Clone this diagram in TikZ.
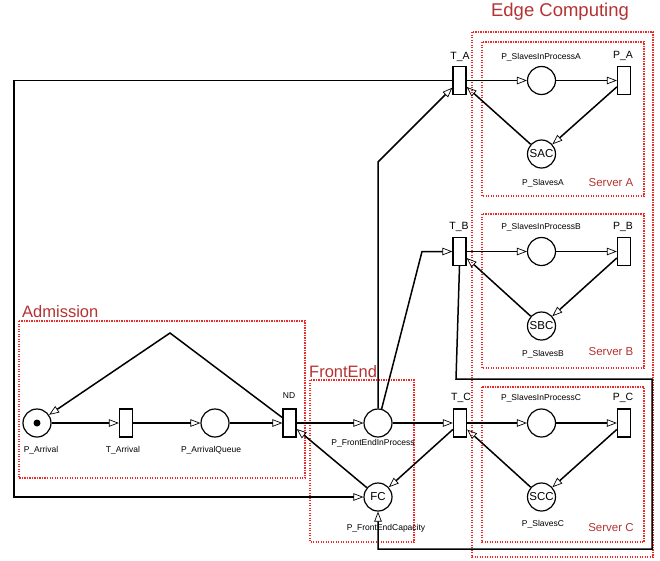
\documentclass[tikz,border=0pt]{standalone}
\usepackage{fontspec}
\setmainfont{Liberation Sans}
\usetikzlibrary{arrows.meta,positioning}
\definecolor{zonered}{RGB}{240,40,40}
\definecolor{labred}{RGB}{180,50,50}

\begin{document}
\begin{tikzpicture}
[x=1pt,y=-1pt,
 pl/.style={circle,draw,line width=1.2pt,minimum size=28pt,inner sep=0pt,font=\fontsize{11.5}{12}\selectfont},
 tr/.style={rectangle,draw,line width=1.3pt,minimum width=13pt,minimum height=28pt,inner sep=0pt},
 tok/.style={circle,fill=black,inner sep=0pt,minimum size=7pt},
 arc/.style={-{Triangle[open,length=10pt,width=7.5pt,line width=0.7pt]},line width=1.5pt},
 zone/.style={draw=zonered,line width=1.1pt,dash pattern=on 1.1pt off 1.4pt},
 lb/.style={inner sep=0pt,font=\fontsize{8.5}{9}\selectfont},
 tl/.style={inner sep=0pt,font=\fontsize{10.5}{11}\selectfont},
 zl/.style={inner sep=0pt,text=labred,font=\fontsize{16.5}{17}\selectfont},
 sl/.style={inner sep=0pt,text=labred,font=\fontsize{11.5}{12}\selectfont}]
\useasboundingbox (0,0) rectangle (660,560);
% zones
\draw[zone] (19,321) rectangle (305,478);
\draw[zone] (310,380) rectangle (414,542);
\draw[zone] (472,32) rectangle (653,557);
\draw[zone] (482,42) rectangle (644,196);
\draw[zone] (482,214) rectangle (644,368);
\draw[zone] (482,387) rectangle (644,542);
\node[zl,anchor=west] (zadm) at (22,312) {Admission};
\node[zl,anchor=west] (zfe) at (309,372) {FrontEnd};
\node[zl,font=\fontsize{18.5}{19}\selectfont] (zedge) at (560,12) {Edge Computing};
\node[sl] (zsa) at (611,183) {Server A};
\node[sl] (zsb) at (611,352) {Server B};
\node[sl] (zsc) at (611,528) {Server C};
% admission
\node[pl] (pa) at (37,423) {};
\node[tok] (tok) at (pa) {};
\node[tr] (tarr) at (126,423) {};
\node[pl] (paq) at (215,423) {};
\node[tr] (nd) at (289.5,423) {};
\node[lb] (lpa) at (41,450) {P\_Arrival};
\node[lb] (ltarr) at (123,450) {T\_Arrival};
\node[lb] (lpaq) at (211,450) {P\_ArrivalQueue};
\node[lb] (lnd) at (289,396) {ND};
% front end
\node[pl] (feip) at (378,423) {};
\node[pl] (fc) at (378,497) {FC};
\node[lb] (lfeip) at (373,443) {P\_FrontEndInProcess};
\node[lb] (lfc) at (386,528) {P\_FrontEndCapacity};
% server A
\node[tr] (ta) at (459.5,80.5) {};
\node[pl] (sipa) at (541.5,80.5) {};
\node[tr] (pA) at (624,80.5) {};
\node[pl] (sac) at (541.5,154) {SAC};
\node[tl] (lta) at (460,57) {T\_A};
\node[lb] (lsipa) at (541,57) {P\_SlavesInProcessA};
\node[tl] (lpA) at (623,56) {P\_A};
\node[lb] (lsac) at (543,183) {P\_SlavesA};
% server B
\node[tr] (tb) at (459.5,251.5) {};
\node[pl] (sipb) at (541.5,251.5) {};
\node[tr] (pB) at (624,251.5) {};
\node[pl] (sbc) at (541.5,326) {SBC};
\node[tl] (ltb) at (459,227) {T\_B};
\node[lb] (lsipb) at (541,227) {P\_SlavesInProcessB};
\node[tl] (lpB) at (623,227) {P\_B};
\node[lb] (lsbc) at (543,354) {P\_SlavesB};
% server C
\node[tr] (tc) at (460,423) {};
\node[pl] (sipc) at (541.5,423) {};
\node[tr] (pC) at (624,423) {};
\node[pl] (scc) at (541.5,497) {SCC};
\node[tl] (ltc) at (461,398) {T\_C};
\node[lb] (lsipc) at (541,398) {P\_SlavesInProcessC};
\node[tl] (lpC) at (623,398) {P\_C};
\node[lb] (lscc) at (543,524) {P\_SlavesC};
% bends
\coordinate (peak) at (170,333);
\coordinate (ka) at (378,162);
\coordinate (kb) at (422,251.5);
\coordinate (la1) at (14,80.5);
\coordinate (la2) at (14,497);
\coordinate (lb1) at (456,379);
\coordinate (lb2) at (652,379);
\coordinate (lb3) at (652,549);
\coordinate (lb4) at (378,549);
% arcs
\draw[arc] (pa) -- (tarr);
\draw[arc] (tarr) -- (paq);
\draw[arc] (paq) -- (nd);
\draw[arc] (nd) -- (peak) -- (pa);
\draw[arc] (nd) -- (feip);
\draw[arc] (fc) -- (nd);
\draw[arc] (feip) -- (tc);
\draw[arc] (feip.north) -- (ka) -- (ta);
\draw[arc] (feip) -- (kb) -- (tb);
\draw[arc] (tc) -- (fc);
\draw[arc] (ta.west) -- (la1) -- (la2) -- (fc);
\draw[arc] (tb.south) -- (lb1) -- (lb2) -- (lb3) -- (lb4) -- (fc);
\draw[arc] (ta) -- (sipa);
\draw[arc] (sipa) -- (pA);
\draw[arc] (pA) -- (sac);
\draw[arc] (sac) -- (ta);
\draw[arc] (tb) -- (sipb);
\draw[arc] (sipb) -- (pB);
\draw[arc] (pB) -- (sbc);
\draw[arc] (sbc) -- (tb);
\draw[arc] (tc) -- (sipc);
\draw[arc] (sipc) -- (pC);
\draw[arc] (pC) -- (scc);
\draw[arc] (scc) -- (tc);
\end{tikzpicture}
\end{document}
